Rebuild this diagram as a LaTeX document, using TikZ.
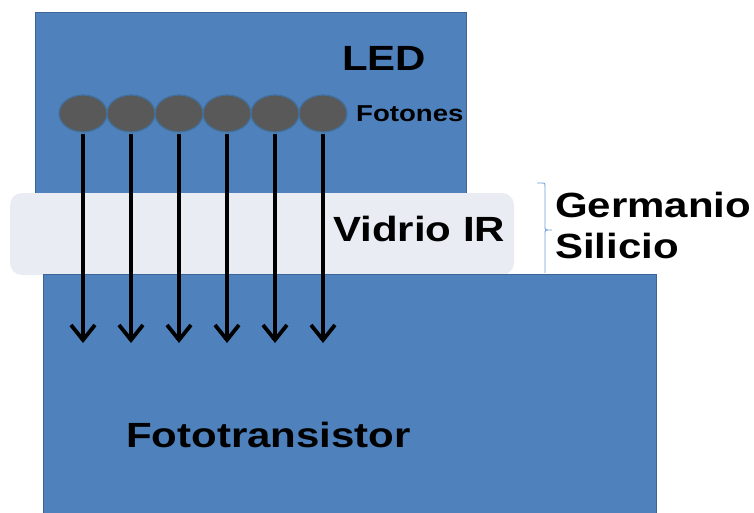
\documentclass[tikz,border=0pt]{standalone}
\usepackage{fontspec}
\usetikzlibrary{arrows.meta,shapes.geometric}
\newfontfamily\lab[FakeStretch=1.2]{Liberation Sans}
\definecolor{boxblue}{HTML}{4F81BD}
\definecolor{boxedge}{HTML}{3A6596}
\definecolor{glass}{HTML}{E9EDF3}
\definecolor{photon}{HTML}{595959}
\definecolor{photonedge}{HTML}{41719C}
\definecolor{brk}{HTML}{6FA0D8}
\tikzset{
  blockbox/.style={fill=boxblue, draw=boxedge, line width=0.8pt},
  glassbox/.style={fill=glass, draw=none, rounded corners=12pt},
  photonball/.style={ellipse, fill=photon, draw=photonedge, line width=1.2pt, minimum width=48pt, minimum height=37pt, inner sep=0pt},
  ray/.style={line width=3.8pt, -{Straight Barb[length=15pt, width=24pt]}},
  bigtext/.style={anchor=base west, inner sep=0pt, font=\lab\bfseries\fontsize{35}{40}\selectfont},
  smalltext/.style={anchor=base west, inner sep=0pt, font=\lab\bfseries\fontsize{23}{26}\selectfont},
}
\begin{document}
\begin{tikzpicture}[x=1pt, y=-1pt]
\useasboundingbox (0,0) rectangle (754,513);
% LED block
\draw[blockbox] (35,12) rectangle (466,193);
% glass
\fill[glassbox] (10,193) rectangle (514,275);
% phototransistor block
\draw[blockbox] (43,274) rectangle (656,520);
% photons
\foreach \i/\x in {1/83,2/131,3/179,4/227,5/275,6/323} {
  \node[photonball] (e\i) at (\x,113.5) {};
  \coordinate (t\i) at (\x,343);
}
\foreach \i in {1,...,6} {
  \draw[ray] ([yshift=-1pt]e\i.south) -- (t\i);
}
% bracket
\draw[brk, line width=0.9pt] (537,183) -- (542,183) .. controls (545,183) .. (545,186) -- (545,227) .. controls (545,230) .. (552,230) .. controls (545,230) .. (545,233) -- (545,273);
% texts
\node[bigtext] (led) at (342,71) {LED};
\node[smalltext] (fot) at (356,122) {Fotones};
\node[bigtext] (vid) at (333,241) {Vidrio IR};
\node[bigtext] (ger) at (555,217) {Germanio};
\node[bigtext] (sil) at (555,258) {Silicio};
\node[bigtext] (ftr) at (126,447) {Fototransistor};
\end{tikzpicture}
\end{document}
